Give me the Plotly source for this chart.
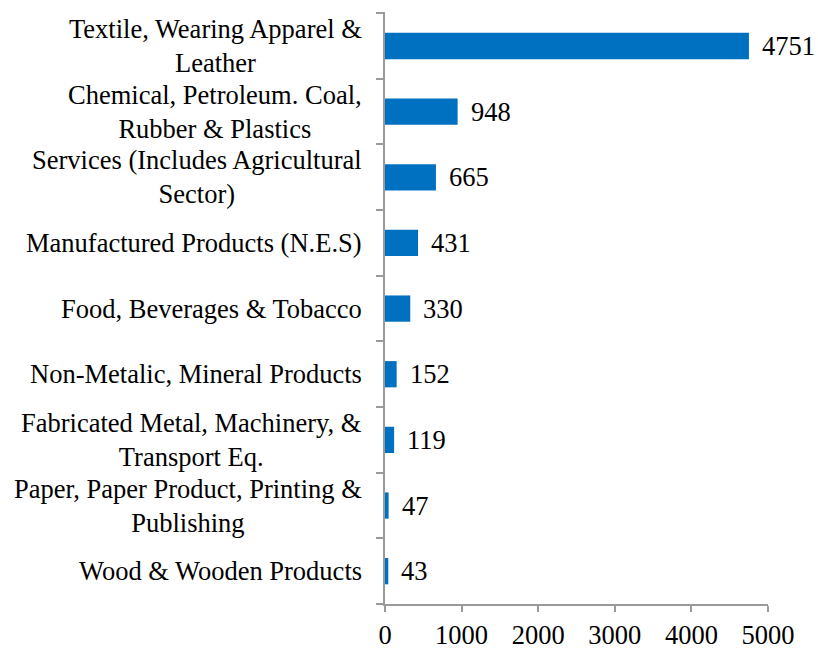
import plotly.graph_objects as go

# Number of units by sector (top to bottom as listed)
sectors = [
    "Textile, Wearing Apparel &<br>Leather",
    "Chemical, Petroleum. Coal,<br>Rubber & Plastics",
    "Services (Includes Agricultural<br>Sector)",
    "Manufactured Products (N.E.S)",
    "Food, Beverages & Tobacco",
    "Non-Metalic, Mineral Products",
    "Fabricated Metal, Machinery, &<br>Transport Eq.",
    "Paper, Paper Product, Printing &<br>Publishing",
    "Wood & Wooden Products",
]
units = [4751, 948, 665, 431, 330, 152, 119, 47, 43]
x_ticks = [0, 1000, 2000, 3000, 4000, 5000]

FONT = "Liberation Serif"
FS = 26.5
AXIS_GREY = "#9a9a9a"

# plot bottom-up so the first sector sits at the top
cats = sectors[::-1]
vals = units[::-1]

fig = go.Figure(
    go.Bar(
        x=vals,
        y=cats,
        orientation="h",
        width=0.4,
        marker=dict(color="#0070C0", line=dict(width=0)),
        hoverinfo="x+y",
    )
)

for c, v in zip(cats, vals):
    # value label to the right of each bar
    fig.add_annotation(
        x=v, y=c, text=str(v), showarrow=False,
        xanchor="left", yanchor="middle", xshift=11,
        font=dict(family=FONT, size=FS, color="#000000"),
    )
    # category label, lines centred, block right-aligned to the axis
    fig.add_annotation(
        x=0, xref="paper", y=c, text=c, showarrow=False,
        xanchor="right", yanchor="middle", align="center", xshift=-21,
        font=dict(family=FONT, size=FS, color="#000000"),
    )

fig.update_layout(
    width=818,
    height=650,
    margin=dict(l=385, r=50, t=12, b=46),
    paper_bgcolor="white",
    plot_bgcolor="white",
    showlegend=False,
    font=dict(family=FONT, size=FS, color="#000000"),
)

fig.update_xaxes(
    range=[0, 5000],
    tickvals=x_ticks,
    ticktext=[str(t) for t in x_ticks],
    automargin=False,
    showgrid=False,
    zeroline=False,
    showline=True,
    linecolor=AXIS_GREY,
    linewidth=1.5,
    ticks="outside",
    ticklen=6,
    tickcolor=AXIS_GREY,
    tickwidth=1.5,
    tickfont=dict(family=FONT, size=FS, color="#000000"),
)

fig.update_yaxes(
    type="category",
    categoryorder="array",
    categoryarray=cats,
    automargin=False,
    showgrid=False,
    zeroline=False,
    showline=True,
    linecolor=AXIS_GREY,
    linewidth=1.5,
    ticks="outside",
    tickson="boundaries",
    ticklen=7,
    tickcolor=AXIS_GREY,
    tickwidth=1.5,
    showticklabels=False,
)

fig.write_html("out.html")
